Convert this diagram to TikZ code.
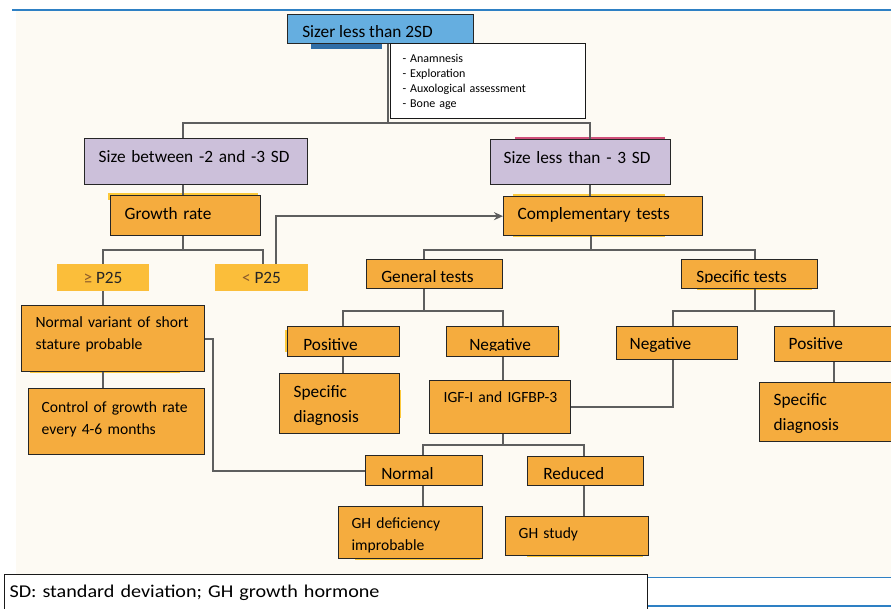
\documentclass[tikz,border=0pt]{standalone}
\usepackage{fontspec}
\setmainfont{Carlito}
\newfontfamily\footfont[FakeStretch=1.12]{Carlito}
\usetikzlibrary{arrows.meta}
\definecolor{cream}{HTML}{FDFAF3}
\definecolor{orng}{HTML}{F5AC3E}
\definecolor{yel}{HTML}{FBBE3A}
\definecolor{glow}{HTML}{FDC93A}
\definecolor{lav}{HTML}{CCC0DA}
\definecolor{skyb}{HTML}{65AEE0}
\definecolor{darkb}{HTML}{2F6DA6}
\definecolor{rulec}{HTML}{2E80C4}
\definecolor{connc}{HTML}{5E5E5E}
\definecolor{brownish}{HTML}{8A5A2A}
\definecolor{pinkc}{HTML}{D0507A}
\newcommand\fnL{\fontsize{17.3}{21}\selectfont}
\newcommand\fnM{\fontsize{15.6}{21.5}\selectfont}
\newcommand\fnS{\fontsize{12}{15}\selectfont}
\tikzset{
  B/.style n args={6}{at={(#1,#2)}, anchor=north west, inner ysep=0pt, inner xsep=#5pt,
    text width={#3pt-#1pt-2*#5pt}, text height={#6pt-#2pt}, text depth={#4pt-#6pt}, align=left},
  obox/.style={draw=black!85, line width=1.3pt, fill=orng, font=\fnL},
  lbox/.style={draw=black!85, line width=1.3pt, fill=lav, font=\fnL},
  pbox/.style={fill=yel, font=\fnL, text=black!85},
  wbox/.style={draw=black!90, line width=1pt, fill=white},
  cut/.style n args={3}{path picture={
    \clip ([yshift=6pt]path picture bounding box.south west) rectangle (path picture bounding box.north east);
    \node[anchor=base west, inner sep=0pt, text width=, text height=, text depth=, font=#2]
      at ([xshift=#1pt, yshift=6.5pt]path picture bounding box.south west) {#3};}},
  conn/.style={draw=connc, line width=1.8pt},
}
\begin{document}
\begin{tikzpicture}[x=1pt,y=-1pt]
\useasboundingbox (0,0) rectangle (891,608);
\clip (0,0) rectangle (891,608);
\fill[white] (0,0) rectangle (891,608);
\fill[cream] (16,11) rectangle (891,577);
\draw[rulec, line width=2pt] (12,10) -- (891,10);
\draw[rulec, line width=1.5pt] (647,577.5) -- (891,577.5);
\draw[rulec, line width=1.5pt] (647,606) -- (891,606);

% soft glows behind some boxes
\fill[glow] (108,193) rectangle (258,200);
\fill[glow] (513,194) rectangle (665,237);
\fill[glow] (30,366) rectangle (180,373);
\fill[glow] (285,330) rectangle (292,352);
\fill[glow] (553,330) rectangle (560,350);
\fill[glow] (394,390) rectangle (401,418);
\fill[glow] (697,283) rectangle (812,290);
\fill[glow] (355,553) rectangle (480,560);
\fill[glow] (527,550) rectangle (643,557);
\fill[pinkc] (515,137) rectangle (665,139);

% top
\fill[darkb] (311,43) rectangle (382,49);
\node[draw=black!85, line width=1.3pt, fill=skyb, B={287}{14}{473}{43}{14}{36}, cut={14}{\fnL}{Sizer less than 2SD}] (top) {};
\node[wbox, B={390}{43}{585}{118}{12}{62}, font=\fnS] (notes) {- Anamnesis\\- Exploration\\- Auxological assessment\\- Bone age};

% level 2
\node[lbox, B={84}{138}{307}{184}{14}{162}] (size23) {Size between -2 and -3 SD};
\node[lbox, B={490}{139}{670}{184}{13}{163}] (size3) {Size less than - 3 SD};

% level 3
\node[obox, B={110}{195}{260}{235}{14}{219}] (growth) {Growth rate};
\node[obox, B={503}{196}{702}{235}{14}{219}] (comp) {Complementary tests};

% P25
\node[pbox, at={(103,277.5)}, minimum width=92pt, minimum height=27pt, inner sep=0pt] (pge) {{\color{brownish}≥} P25};
\node[pbox, at={(261.5,277.5)}, minimum width=93pt, minimum height=27pt, inner sep=0pt] (plt) {{\color{brownish}<} P25};

% tests
\node[obox, B={366}{259}{502}{288}{14}{281}, cut={14}{\fnL}{General tests}] (gen) {};
\node[obox, B={681}{259}{817}{288}{14}{281}, cut={14}{\fnL}{Specific tests}] (spec) {};

% left branch
\node[obox, B={21}{305}{204}{371}{14}{327}, font=\fnM] (normvar) {\mbox{Normal variant of short}\\stature probable};
\node[obox, B={28}{388}{204}{454}{13}{412}, font=\fnM] (control) {\mbox{Control of growth rate}\\every 4-6 months};

% general tests branch
\node[obox, B={287}{326}{399}{356}{15}{349}, cut={15}{\fnL}{Positive}] (posL) {};
\node[obox, B={446}{326}{558}{356}{22}{349}, cut={22}{\fnL}{Negative}] (negL) {};
\node[obox, B={279}{373}{399}{433}{14}{397}, font=\fontsize{17.3}{25}\selectfont] (sdiagL) {Specific\\diagnosis};
\node[obox, B={429}{380}{570}{433}{14}{402}, font=\fnM] (igf) {\mbox{IGF-I and IGFBP-3}};

% specific tests branch
\node[obox, B={616}{326}{737}{359}{13}{349}] (negR) {Negative};
\node[obox, B={774}{326}{902}{361}{14}{349}] (posR) {Positive};
\node[obox, B={759}{382}{902}{441}{14}{405}, font=\fontsize{17.3}{25}\selectfont] (sdiagR) {Specific\\diagnosis};

% IGF results
\node[obox, B={365}{455}{482}{485}{15}{478}, cut={15}{\fnL}{Normal}] (normal) {};
\node[obox, B={527}{456}{643}{485}{15}{478}, cut={15}{\fnL}{Reduced}] (reduced) {};
\node[obox, B={338}{506}{482}{558}{13}{528}, font=\fnM] (ghdef) {GH deficiency\\improbable};
\node[obox, B={505}{516}{648}{555}{13}{538}, font=\fnM] (ghstudy) {GH study};

% footer
\node[wbox, B={4}{574}{647}{614}{5}{597}, font=\footfont\fontsize{18}{21}\selectfont] (foot) {SD: standard deviation; GH growth hormone};

% connectors
\coordinate (b1) at (388,123); \coordinate (b1l) at (183,123); \coordinate (b1r) at (590,123);
\draw[conn] (top.south -| b1) -- (b1);
\draw[conn] (size23.north -| b1l) -- (b1l) -- (b1r) -- (size3.north -| b1r);
\draw[conn] (size23.south -| b1l) -- (growth.north -| b1l);
\draw[conn] (size3.south -| b1r) -- (comp.north -| b1r);

\coordinate (b2) at (183,250); \coordinate (b2l) at (103,250); \coordinate (b2r) at (263,250);
\draw[conn] (growth.south -| b2) -- (b2);
\draw[conn] (pge.north -| b2l) -- (b2l) -- (b2r) -- (plt.north -| b2r);
\draw[conn] (pge.south -| b2l) -- (normvar.north -| b2l);
\draw[conn] (normvar.south -| b2l) -- (control.north -| b2l);
\coordinate (a1) at (276,214);
\draw[conn, -{Stealth[length=9pt,width=8pt]}] (plt.north -| a1) |- (comp.west);
\draw[conn] (normvar.east) -| ([xshift=8pt]normvar.east |- normal.west) -- (normal.west);

\coordinate (b3) at (591,250); \coordinate (b3l) at (424,250); \coordinate (b3r) at (755,250);
\draw[conn] (comp.south -| b3) -- (b3);
\draw[conn] (gen.north -| b3l) -- (b3l) -- (b3r) -- (spec.north -| b3r);

\coordinate (b4) at (424,311); \coordinate (b4l) at (343,311); \coordinate (b4r) at (503,311);
\draw[conn] (gen.south -| b4) -- (b4);
\draw[conn] (posL.north -| b4l) -- (b4l) -- (b4r) -- (negL.north -| b4r);
\draw[conn] (posL.south -| b4l) -- (sdiagL.north -| b4l);
\draw[conn] (negL.south -| b4r) -- (igf.north -| b4r);

\coordinate (b5) at (755,311); \coordinate (b5l) at (673,311); \coordinate (b5r) at (834,311);
\draw[conn] (spec.south -| b5) -- (b5);
\draw[conn] (negR.north -| b5l) -- (b5l) -- (b5r) -- (posR.north -| b5r);
\draw[conn] (negR.south -| b5l) |- (igf.east);
\draw[conn] (posR.south -| b5r) -- (sdiagR.north -| b5r);

\coordinate (b6) at (503,445); \coordinate (b6l) at (423,445); \coordinate (b6r) at (584,445);
\draw[conn] (igf.south -| b6) -- (b6);
\draw[conn] (normal.north -| b6l) -- (b6l) -- (b6r) -- (reduced.north -| b6r);
\draw[conn] (normal.south -| b6l) -- (ghdef.north -| b6l);
\draw[conn] (reduced.south -| b6r) -- (ghstudy.north -| b6r);
\end{tikzpicture}
\end{document}
